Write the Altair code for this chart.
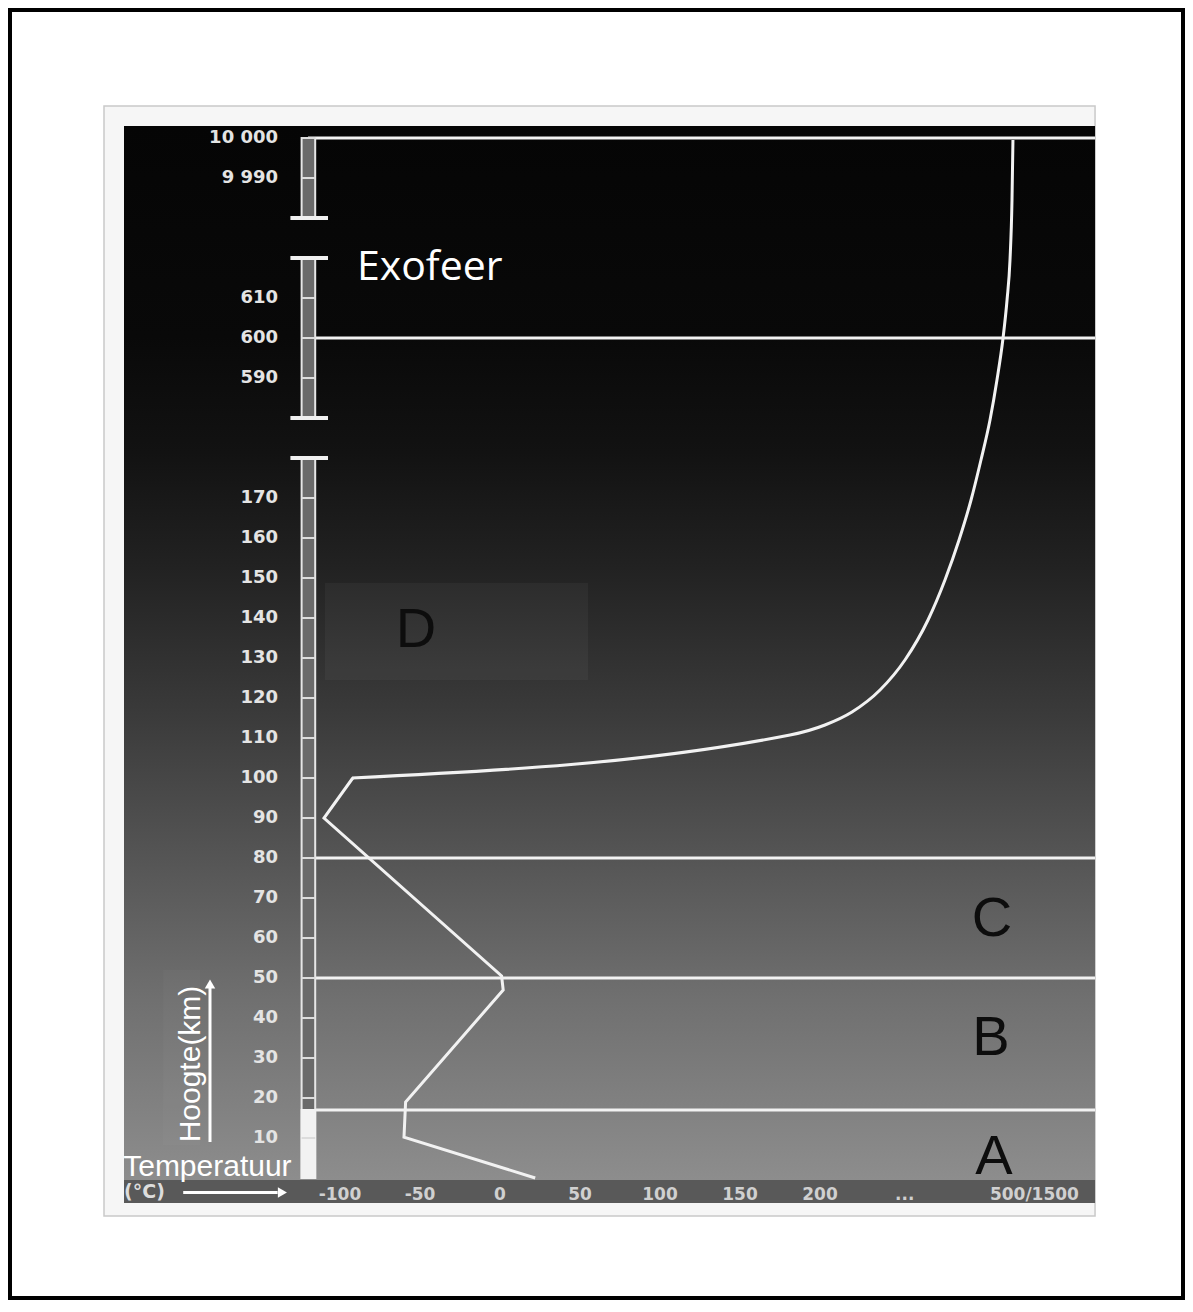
import altair as alt
import pandas as pd

# ---------------- data ----------------
# Height ruler (broken axis): km labels and their position on the drawn axis
height_tick_km = [10, 20, 30, 40, 50, 60, 70, 80, 90, 100, 110, 120, 130, 140,
                  150, 160, 170, 590, 600, 610, 9990, 10000]
height_tick_labels = ["10", "20", "30", "40", "50", "60", "70", "80", "90", "100",
                      "110", "120", "130", "140", "150", "160", "170",
                      "590", "600", "610", "9 990", "10 000"]
# axis breaks: (first km, last km, shift to drawn axis)
axis_segments = [(0, 180, 0), (580, 620, 390), (9980, 10000, 9740)]

# Temperature axis labels and their position on the drawn axis
temp_tick_pos = [-100, -50, 0, 50, 100, 150, 200, 253, 334]
temp_tick_labels = ["-100", "-50", "0", "50", "100", "150", "200", "...", "500/1500"]

# layer boundaries (km)
boundary_km = [17, 50, 80, 600, 10000]

# temperature profile, lower part (drawn axis units: degC, km)
low_temp = [22, -60, -59, 2, 1, -110, -92]
low_alt = [0, 10.2, 19, 47, 50.5, 90, 100]
# temperature profile, upper part (drawn axis units)
high_temp = [-92.5, 181.25, 203.1, 220, 237.5, 253.1, 267.5, 278.1, 286.9, 294.4,
             300.6, 306.25, 310.6, 314.4, 316.9, 318.75, 320, 320.6]
high_alt = [100, 110.75, 113.25, 116.5, 122, 129.5, 139.5, 149.5, 159.5, 169.5,
            179.5, 189.5, 199.5, 210, 219.5, 229.5, 244.5, 259.5]

layer_letters = ["D", "C", "B", "A"]
letter_temp = [-52.5, 307.5, 306.9, 308.75]
letter_alt = [137, 64.75, 35, 5.25]


def drawn(km):
    for lo, hi, shift in axis_segments:
        if lo <= km <= hi:
            return km - shift
    return km


# ---------------- scales ----------------
W, H = 1177, 1292
X0_PX, X_PER = 492, 1.6      # plot px of 0 degC, px per degC
Y0_PX, Y_PER = 1170, 4.0     # plot px of 0 km, px per km
xs = alt.Scale(domain=[-X0_PX / X_PER, (W - X0_PX) / X_PER], nice=False, zero=False)
ys = alt.Scale(domain=[(Y0_PX - H) / Y_PER, Y0_PX / Y_PER], nice=False, zero=False)


def enc(ch, x2=False, y2=False):
    e = dict(x=alt.X("x:Q", scale=xs, axis=None), y=alt.Y("y:Q", scale=ys, axis=None))
    if x2:
        e["x2"] = "x2:Q"
    if y2:
        e["y2"] = "y2:Q"
    return ch.encode(**e)


def rects(rows, **kw):
    df = pd.DataFrame(rows, columns=["x", "x2", "y", "y2"])
    return enc(alt.Chart(df).mark_rect(**kw), x2=True, y2=True)


def rules(rows, **kw):
    df = pd.DataFrame(rows, columns=["x", "x2", "y", "y2"])
    return enc(alt.Chart(df).mark_rule(**kw), x2=True, y2=True)


# frame of the picture
IMG_L, IMG_R, IMG_B, IMG_T = -235, 371.9, -6.25, 263
frame = rects([(-247.5, IMG_R, -9.5, 268)], fill="#f6f6f6", stroke="#c9c9c9", strokeWidth=1.5)

grad = alt.Gradient(
    gradient="linear", x1=0, x2=0, y1=0, y2=1,
    stops=[
        alt.GradientStop(color="#050505", offset=0),
        alt.GradientStop(color="#090909", offset=0.2),
        alt.GradientStop(color="#121212", offset=0.31),
        alt.GradientStop(color="#222222", offset=0.42),
        alt.GradientStop(color="#393939", offset=0.55),
        alt.GradientStop(color="#565656", offset=0.7),
        alt.GradientStop(color="#707070", offset=0.83),
        alt.GradientStop(color="#8d8d8d", offset=1),
    ],
)
background = rects([(IMG_L, IMG_R, -0.5, IMG_T)], fill=grad, strokeWidth=0)
strip = rects([(IMG_L, IMG_R, IMG_B, -0.5)], fill="#595959", strokeWidth=0)

box_d = rects([(-109.4, 55, 124.5, 148.75)], fill="white", fillOpacity=0.04, strokeWidth=0)
box_h = rects([(-210.6, -187.5, 8.25, 52)], fill="white", fillOpacity=0.025, strokeWidth=0)

# ruler
RX1, RX2 = -124, -115.5
seg_rows = [(RX1, RX2, drawn(lo), drawn(hi)) for lo, hi, _ in axis_segments]
ruler = rects(seg_rows, fill="#6a6a6a", stroke="#e6e6e6", strokeWidth=2)
ruler_low = rects([(RX1, RX2, 0, boundary_km[0])], fill="#f2f2f2", stroke="#f2f2f2", strokeWidth=2)
tick_rows = [(RX1, RX2, drawn(k), drawn(k)) for k in height_tick_km]
ruler_ticks = rules(tick_rows, color="#dcdcdc", strokeWidth=2)
cap_rows = []
for i, (lo, hi, _) in enumerate(axis_segments):
    if i > 0:
        cap_rows.append((-131, -107.5, drawn(lo), drawn(lo)))
    if i < len(axis_segments) - 1:
        cap_rows.append((-131, -107.5, drawn(hi), drawn(hi)))
caps = rules(cap_rows, color="#f0f0f0", strokeWidth=4)

# layer boundaries
bnd = rules([(-120, IMG_R, drawn(k), drawn(k)) for k in boundary_km],
            color="#f2f2f2", strokeWidth=3)

# temperature profile
low_df = pd.DataFrame({"x": low_temp, "y": low_alt, "o": range(len(low_temp))})
high_df = pd.DataFrame({"x": high_temp, "y": high_alt, "o": range(len(high_temp))})
low_line = alt.Chart(low_df).mark_line(color="#f2f2f2", strokeWidth=3, strokeJoin="miter").encode(
    x=alt.X("x:Q", scale=xs, axis=None), y=alt.Y("y:Q", scale=ys, axis=None), order="o:Q")
high_line = alt.Chart(high_df).mark_line(color="#f2f2f2", strokeWidth=3, interpolate="monotone").encode(
    x=alt.X("x:Q", scale=xs, axis=None), y=alt.Y("y:Q", scale=ys, axis=None), order="o:Q")

# tick labels
hl_df = pd.DataFrame({"x": [-138.75] * len(height_tick_km),
                      "y": [drawn(k) for k in height_tick_km],
                      "t": height_tick_labels})
h_labels = enc(alt.Chart(hl_df).mark_text(font="DejaVu Sans", fontWeight="bold", fontSize=18,
                                          align="right", baseline="middle", color="#e4e4e4"))
h_labels = h_labels.encode(text="t:N")

tl_df = pd.DataFrame({"x": temp_tick_pos, "y": [-4.2] * len(temp_tick_pos), "t": temp_tick_labels})
t_labels = enc(alt.Chart(tl_df).mark_text(font="DejaVu Sans", fontWeight="bold", fontSize=17,
                                          align="center", baseline="middle", color="#d0d0d0"))
t_labels = t_labels.encode(text="t:N")

# texts
exo = enc(alt.Chart(pd.DataFrame({"x": [-89.4], "y": [227.5], "t": ["Exofeer"]})).mark_text(
    font="Open Sans", fontSize=41, align="left", baseline="middle", color="white")).encode(text="t:N")

let_df = pd.DataFrame({"x": letter_temp, "y": letter_alt, "t": layer_letters})
letters = enc(alt.Chart(let_df).mark_text(font="Liberation Sans", fontSize=56, align="center",
                                          baseline="middle", color="#0d0d0d")).encode(text="t:N")

hoogte = enc(alt.Chart(pd.DataFrame({"x": [-193.1], "y": [28.5], "t": ["Hoogte(km)"]})).mark_text(
    font="Liberation Sans", fontSize=30, angle=270, align="center", baseline="middle",
    color="white")).encode(text="t:N")
temp_txt = enc(alt.Chart(pd.DataFrame({"x": [-235.5], "y": [0.6], "t": ["Temperatuur"]})).mark_text(
    font="Liberation Sans", fontSize=30, align="left", baseline="alphabetic",
    color="white")).encode(text="t:N")
degc = enc(alt.Chart(pd.DataFrame({"x": [-235], "y": [-3.6], "t": ["(°C)"]})).mark_text(
    font="DejaVu Sans", fontWeight="bold", fontSize=19, align="left", baseline="middle",
    color="#dddddd")).encode(text="t:N")

# arrows
arrow_lines = rules([(-181.25, -181.25, 9, 47.5), (-198, -139, -3.6, -3.6)],
                    color="white", strokeWidth=3)
head_up = enc(alt.Chart(pd.DataFrame({"x": [-181.25], "y": [48.5]})).mark_point(
    shape="triangle-up", filled=True, size=110, color="white", opacity=1))
head_right = enc(alt.Chart(pd.DataFrame({"x": [-136], "y": [-3.6]})).mark_point(
    shape="triangle-right", filled=True, size=110, color="white", opacity=1))

chart = alt.layer(
    frame, background, strip, box_d, box_h,
    bnd, ruler, ruler_low, ruler_ticks, caps,
    low_line, high_line,
    h_labels, t_labels, exo, letters, hoogte, temp_txt, degc,
    arrow_lines, head_up, head_right,
).properties(width=W, height=H, padding=0, background="white",
             autosize=alt.AutoSizeParams(type="none")
).configure_view(stroke="black", strokeWidth=8)

chart.save("out.html", embed_options={"renderer": "svg", "actions": False})
